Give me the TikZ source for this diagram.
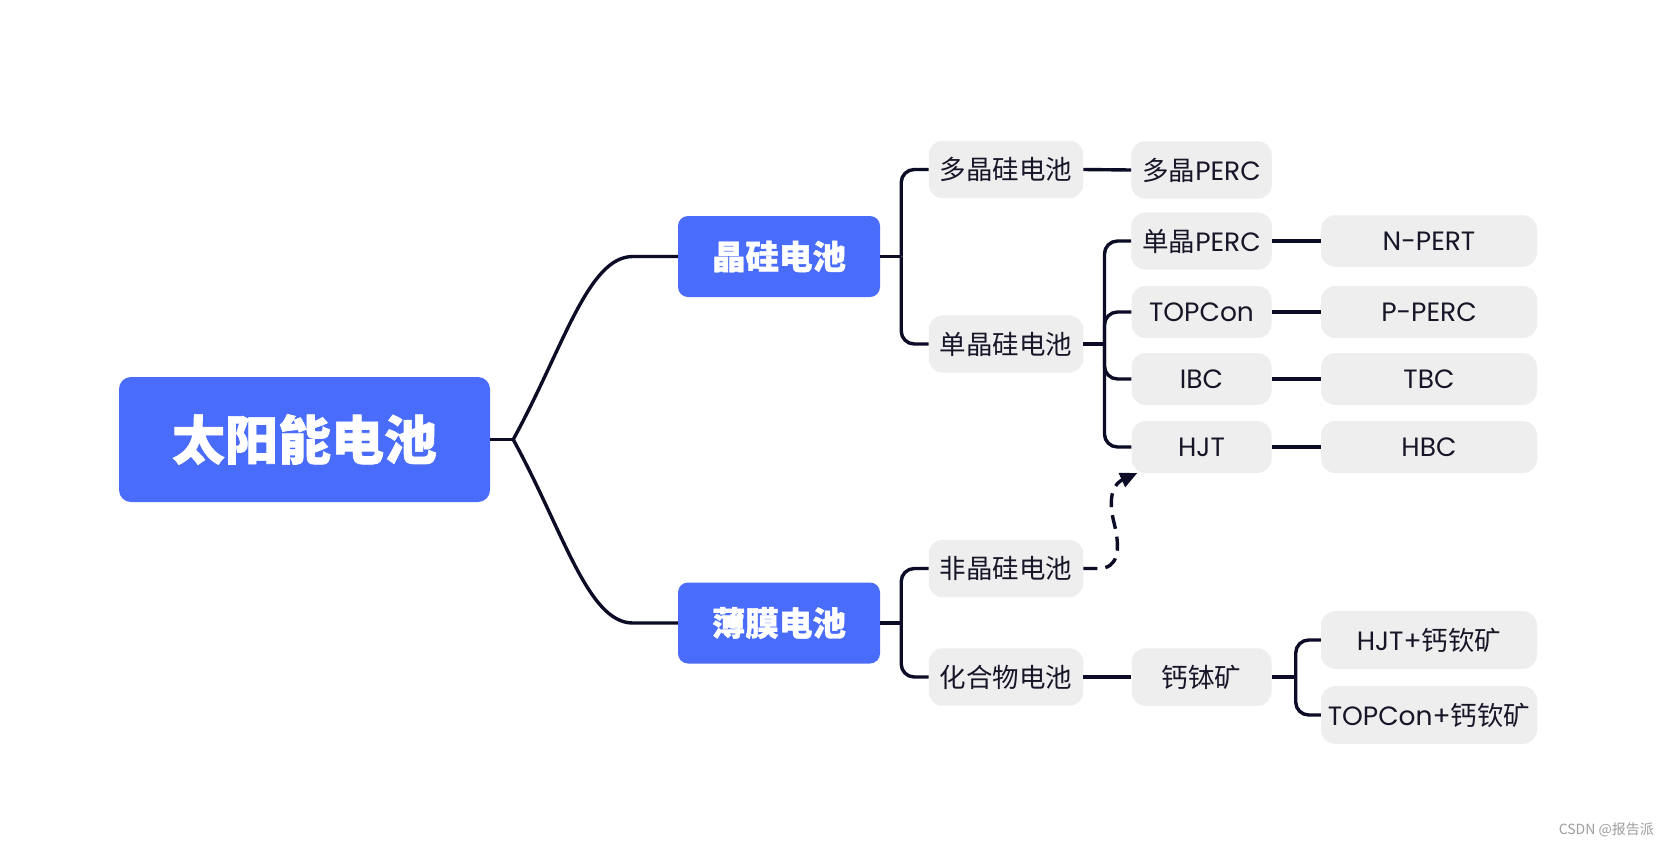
\documentclass[tikz,border=0pt]{standalone}
\usepackage{fontspec}
\setmainfont{Poppins}
\newfontfamily\cjk{Noto Sans CJK SC}[BoldFeatures={FakeBold=1.2}]
\usetikzlibrary{arrows.meta}

\definecolor{mapblue}{RGB}{74,108,250}
\definecolor{mapgray}{RGB}{238,238,238}
\definecolor{mapline}{RGB}{12,12,38}
\definecolor{maptext}{RGB}{22,22,40}

\tikzset{
	rootbox/.style={fill=mapblue, text=white, rounded corners=12pt, minimum width=371pt, minimum height=125pt, inner sep=0pt, font=\cjk\bfseries\fontsize{53}{60}\selectfont},
	mainbox/.style={fill=mapblue, text=white, rounded corners=10pt, minimum width=202pt, minimum height=81pt, inner sep=0pt, font=\cjk\bfseries\fontsize{33.5}{40}\selectfont},
	graybox/.style={fill=mapgray, text=maptext, rounded corners=14pt, inner xsep=11pt, inner ysep=16.5pt, font=\fontsize{26.5}{30}\selectfont},
	subbox/.style={graybox, minimum width=154pt},
	typebox/.style={graybox, minimum width=140pt},
	leafbox/.style={graybox, inner xsep=4pt, minimum width=216pt},
	link/.style={draw=mapline, line width=3.4pt},
	bracket/.style={link, rounded corners=13pt},
	dashlink/.style={link, dash pattern=on 14pt off 8pt, -{Triangle[length=17pt, width=15pt]}},
	wmark/.style={text=black!38, font=\cjk\fontsize{14}{16}\selectfont, inner sep=0pt}
}

\begin{document}
\begin{tikzpicture}[x=1pt, y=-1pt]
	\useasboundingbox[fill=white] (0,0) rectangle (1670,847);
	
	% root and main branches
	\node[rootbox] (solar) at (304.5,439.5) {太阳能电池};
	\node[mainbox] (cryst) at (779,256.5) {晶硅电池};
	\node[mainbox] (film) at (779,623) {薄膜电池};
	
	% second level
	\node[subbox] (poly) at (1006,169.5) {\cjk 多晶硅电池};
	\node[subbox] (mono) at (1006,344) {\cjk 单晶硅电池};
	\node[subbox] (amor) at (1006,568.5) {\cjk 非晶硅电池};
	\node[subbox] (comp) at (1006,677) {\cjk 化合物电池};
	
	% third level
	\node[typebox] (polyperc) at (1201.5,170) {{\cjk 多晶}PERC};
	\node[typebox] (monoperc) at (1201.5,241) {{\cjk 单晶}PERC};
	\node[typebox] (topcon) at (1201.5,312) {TOPCon};
	\node[typebox] (ibc) at (1201.5,379) {IBC};
	\node[typebox] (hjt) at (1201.5,447) {HJT};
	\node[typebox] (perov) at (1201.5,677) {\cjk 钙钵矿};
	
	% fourth level
	\foreach \name/\txt/\y in {npert/N-PERT/241, pperc/P-PERC/312, tbc/TBC/379, hbc/HBC/447}
	\node[leafbox] (\name) at (1429,\y) {\txt};
	\node[leafbox] (hjtperov) at (1429,640) {HJT+{\cjk 钙钦矿}};
	\node[leafbox] (topperov) at (1429,715) {TOPCon+{\cjk 钙钦矿}};
	
	% junction points
	\coordinate (j0) at ([xshift=23pt]solar.east);
	\coordinate (jcryst) at ([xshift=21pt]cryst.east);
	\coordinate (jfilm) at ([xshift=21pt]film.east);
	\coordinate (jmono) at ([xshift=21pt]mono.east);
	\coordinate (jperov) at ([xshift=24pt]perov.east);
	\coordinate (crystin) at ([xshift=-45pt]cryst.west);
	\coordinate (filmin) at ([xshift=-45pt]film.west);
	
	% root curves
	\draw[link] (solar.east) -- (j0);
	\draw[link] (j0) .. controls +(50,-91) and +(-45,0) .. (crystin) -- (cryst.west);
	\draw[link] (j0) .. controls +(50,91) and +(-45,0) .. (filmin) -- (film.west);
	
	% brackets
	\foreach \from/\jun in {cryst/jcryst, film/jfilm, mono/jmono, perov/jperov}
	\draw[link] (\from.east) -- (\jun);
	\foreach \jun/\to in {jcryst/poly, jcryst/mono, jfilm/amor, jfilm/comp, jmono/monoperc, jmono/topcon, jmono/ibc, jmono/hjt, jperov/hjtperov, jperov/topperov}
	\draw[bracket] (\jun) |- (\to.west);
	
	% straight links
	\foreach \a/\b in {poly/polyperc, comp/perov, monoperc/npert, topcon/pperc, ibc/tbc, hjt/hbc}
	\draw[link] (\a.east) -- (\b.west);
	
	% dashed arrow
	\coordinate (bend) at ([xshift=31pt, yshift=44pt]amor.east);
	\coordinate (hjtfoot) at ([xshift=6pt]hjt.south west);
	\draw[dashlink] (amor.east) -- ++(15,0) .. controls +(20,0) and +(6,25) .. (bend) .. controls +(-8,-30) and +(-22,10) .. (hjtfoot);
	
	\node[wmark, anchor=east] (csdn) at (1654,830) {CSDN @报告派};
\end{tikzpicture}
\end{document}
